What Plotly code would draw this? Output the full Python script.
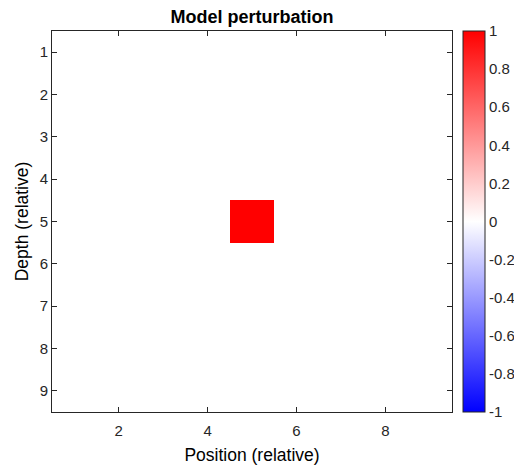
import plotly.graph_objects as go

positions = [1, 2, 3, 4, 5, 6, 7, 8, 9]
depths = [1, 2, 3, 4, 5, 6, 7, 8, 9]
# perturbation: single cell of value 1 at position 5, depth 5
perturb_pos = 5
perturb_depth = 5
perturb_value = 1.0
z = [[perturb_value if (d == perturb_depth and p == perturb_pos) else 0.0 for p in positions] for d in depths]

x_ticks = [2, 4, 6, 8]
y_ticks = [1, 2, 3, 4, 5, 6, 7, 8, 9]
cb_ticks = [1, 0.8, 0.6, 0.4, 0.2, 0, -0.2, -0.4, -0.6, -0.8, -1]

font_family = "Liberation Sans, Arial, sans-serif"
ax_color = "#262626"

L, R, T, B = 52, 62, 31, 53
W, H = 514, 465
plot_w = W - L - R

fig = go.Figure(go.Heatmap(
    x=positions, y=depths, z=z,
    zmin=-1, zmax=1,
    colorscale=[[0, "rgb(0,0,255)"], [0.5, "rgb(255,255,255)"], [1, "rgb(255,0,0)"]],
    colorbar=dict(
        x=(463 - L) / plot_w, xanchor="left", xpad=0,
        y=0.5, yanchor="middle", ypad=0, len=1, lenmode="fraction",
        thickness=22, thicknessmode="pixels",
        outlinewidth=1, outlinecolor=ax_color,
        tickvals=cb_ticks, ticktext=[f"{v:g}" for v in cb_ticks],
        ticks="outside", ticklen=1, tickcolor="rgba(0,0,0,0)",
        tickfont=dict(size=15, color=ax_color, family=font_family),
    ),
    showscale=True,
    hoverongaps=False,
))

fig.update_layout(
    width=W, height=H,
    margin=dict(l=L, r=R, t=T, b=B, autoexpand=False),
    paper_bgcolor="white", plot_bgcolor="white",
    font=dict(family=font_family, size=15, color=ax_color),
    title=dict(text="<b>Model perturbation</b>", x=0.5, xref="paper", xanchor="center",
               y=1 - 16.5 / H, yanchor="middle", font=dict(size=18, color="#000000")),
    xaxis=dict(
        range=[0.5, 9.5], tickvals=x_ticks, ticks="inside", ticklen=5, tickcolor=ax_color,
        showline=True, mirror="ticks", linecolor=ax_color, linewidth=1,
        showgrid=False, zeroline=False, automargin=False,
        ticklabelstandoff=5,
        title=dict(text="Position (relative)", font=dict(size=17.5, color="#000000"), standoff=10),
        tickfont=dict(size=15, color=ax_color),
    ),
    yaxis=dict(
        range=[9.5, 0.5], tickvals=y_ticks, ticks="inside", ticklen=5, tickcolor=ax_color,
        showline=True, mirror="ticks", linecolor=ax_color, linewidth=1,
        showgrid=False, zeroline=False, automargin=False,
        title=dict(text="Depth (relative)", font=dict(size=17.5, color="#000000"), standoff=6),
        tickfont=dict(size=15, color=ax_color),
    ),
)

fig.write_html("out.html")
